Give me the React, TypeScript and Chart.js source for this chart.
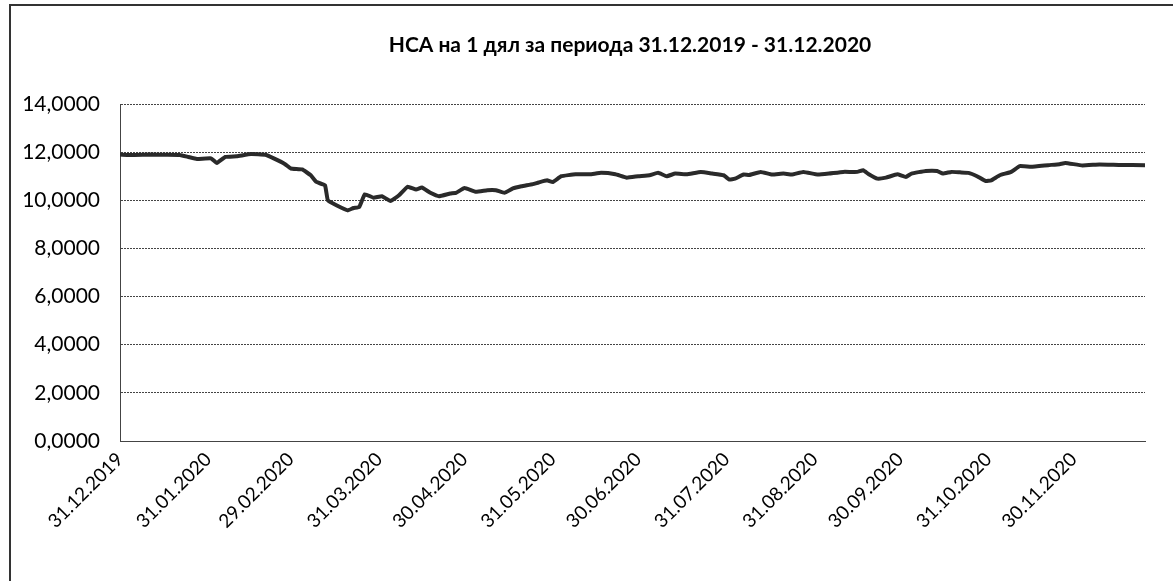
import React, { useEffect, useRef } from 'react';
import { Chart, registerables } from 'chart.js';

Chart.register(...registerables);

const chartTitle = 'НСА на 1 дял за периода 31.12.2019 - 31.12.2020';

// days elapsed since 31.12.2019
const dayOffsets = [
  0, 5, 11, 16, 21, 24, 27, 32, 34, 37, 41, 46, 51, 54, 58, 60, 64, 67, 69, 72, 73,
  76, 80, 82, 84, 86, 89, 92, 95, 98, 101, 104, 106, 109, 112, 116, 118, 121, 125,
  129, 132, 135, 138, 141, 145, 147, 150, 152, 155, 160, 165, 169, 174, 178, 182,
  186, 189, 192, 195, 199, 204, 208, 212, 214, 216, 219, 221, 225, 229, 233, 236,
  240, 245, 249, 254, 259, 261, 263, 266, 269, 273, 276, 278, 283, 287, 289, 292,
  295, 298, 301, 304, 306, 309, 313, 316, 320, 326, 330, 332, 338, 344, 351, 360,
];

const navValues = [
  11.9, 11.88, 11.9, 11.89, 11.88, 11.8, 11.72, 11.74, 11.55, 11.8, 11.83, 11.92, 11.89,
  11.74, 11.5, 11.32, 11.28, 11.04, 10.76, 10.62, 10.0,
  9.79, 9.58, 9.68, 9.72, 10.25, 10.11, 10.17, 9.97, 10.21, 10.56, 10.45, 10.53, 10.31,
  10.17, 10.28, 10.31, 10.51, 10.35, 10.42, 10.42, 10.31, 10.49, 10.58, 10.67, 10.74,
  10.83, 10.76, 11.0, 11.08, 11.08, 11.14, 11.08, 10.94, 11.0, 11.04, 11.14, 11.0,
  11.11, 11.08, 11.17, 11.11, 11.04, 10.86, 10.9, 11.07, 11.05, 11.18, 11.07, 11.11,
  11.07, 11.18, 11.07, 11.11, 11.18, 11.18, 11.25, 11.08, 10.9, 10.94, 11.08, 10.97,
  11.11, 11.22, 11.22, 11.11, 11.18, 11.16, 11.14, 11.0, 10.8, 10.83, 11.04, 11.18,
  11.42, 11.39, 11.46, 11.5, 11.55, 11.45, 11.49, 11.47, 11.46,
];

const tickDays = [0, 31, 60, 91, 121, 152, 182, 213, 244, 274, 305, 335];
const tickLabels = [
  '31.12.2019', '31.01.2020', '29.02.2020', '31.03.2020', '30.04.2020', '31.05.2020',
  '30.06.2020', '31.07.2020', '31.08.2020', '30.09.2020', '31.10.2020', '30.11.2020',
];

const yMin = 0;
const yMax = 14;
const yStep = 2;

const FONT = 'Lato, "Open Sans", sans-serif';

export default function App() {
  const canvasRef = useRef<HTMLCanvasElement | null>(null);

  useEffect(() => {
    if (!canvasRef.current) return;
    const points = dayOffsets.map((d, i) => ({ x: d, y: navValues[i] }));

    const titlePlugin = {
      id: 'customTitle',
      afterDraw(chart: any) {
        const ctx = chart.ctx;
        ctx.save();
        ctx.font = `bold 21px ${FONT}`;
        ctx.fillStyle = '#000';
        ctx.textAlign = 'center';
        ctx.textBaseline = 'middle';
        ctx.fillText(chartTitle, 630, 45);
        ctx.restore();
      },
    };

    const chart = new Chart(canvasRef.current, {
      type: 'line',
      data: {
        datasets: [
          {
            data: points,
            borderColor: '#2a2a2a',
            borderWidth: 4,
            pointRadius: 0,
            tension: 0.1,
            fill: false,
          },
        ],
      },
      options: {
        animation: false,
        responsive: false,
        maintainAspectRatio: false,
        layout: { padding: { left: 10, right: 28, top: 104, bottom: 0 } },
        plugins: {
          legend: { display: false },
          title: { display: false },
          tooltip: { enabled: false },
        },
        scales: {
          x: {
            type: 'linear',
            min: 0,
            max: 360,
            afterBuildTicks(scale: any) {
              scale.ticks = tickDays.map((v) => ({ value: v }));
            },
            afterFit(scale: any) {
              scale.height = 140;
            },
            ticks: {
              autoSkip: false,
              maxRotation: 45,
              minRotation: 45,
              padding: 7,
              color: '#000',
              font: { family: FONT, size: 19 },
              callback(value: any) {
                const idx = tickDays.indexOf(Number(value));
                return idx >= 0 ? tickLabels[idx] : '';
              },
            },
            grid: { display: false, drawTicks: false },
            border: { display: true, color: '#444', width: 1, dash: [2, 1] },
          },
          y: {
            min: yMin,
            max: yMax,
            afterFit(scale: any) {
              scale.width = 110;
            },
            ticks: {
              stepSize: yStep,
              padding: 20,
              color: '#000',
              font: { family: FONT, size: 21 },
              callback(value: any) {
                return Number(value).toFixed(4).replace('.', ',');
              },
            },
            grid: { color: '#444', lineWidth: 1, drawTicks: false },
            border: { display: true, color: '#444', width: 1, dash: [2, 1] },
          },
        },
      },
      plugins: [titlePlugin],
    } as any);

    return () => chart.destroy();
  }, []);

  return (
    <div
      style={{
        position: 'fixed',
        left: 0,
        top: 0,
        width: 1173,
        height: 581,
        overflow: 'hidden',
        background: '#fff',
      }}
    >
      <div
        style={{
          position: 'absolute',
          left: 9,
          top: 4,
          width: 1400,
          height: 800,
          borderLeft: '2px solid #333',
          borderTop: '2px solid #333',
        }}
      />
      <canvas
        ref={canvasRef}
        width={1173}
        height={581}
        style={{ position: 'absolute', left: 0, top: 0, width: 1173, height: 581 }}
      />
    </div>
  );
}
